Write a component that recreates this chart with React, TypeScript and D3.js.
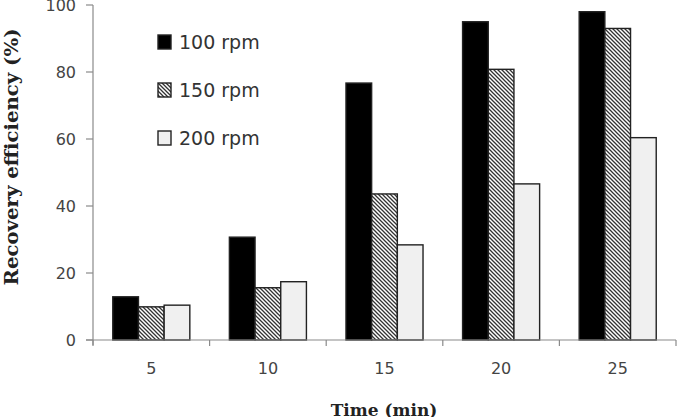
import * as React from "react";
import * as d3 from "d3";

// chart values
const times = ["5", "10", "15", "20", "25"];
const series = ["100 rpm", "150 rpm", "200 rpm"];
const rpm100 = [12.9, 30.7, 76.7, 95.0, 98.0];
const rpm150 = [9.9, 15.6, 43.6, 80.8, 93.0];
const rpm200 = [10.4, 17.4, 28.4, 46.6, 60.4];
const yTicks = [0, 20, 40, 60, 80, 100];

const W = 679;
const H = 417;
const margin = { left: 93, right: 3, top: 5, bottom: 77 };

const fills = ["#000", "url(#hatch)", "#f0f0f0"];

export default function App() {
  const values = [rpm100, rpm150, rpm200];

  const x = d3.scaleBand<string>()
    .domain(times)
    .range([margin.left, W - margin.right])
    .paddingInner(0)
    .paddingOuter(0);
  const inner = d3.scaleBand<string>()
    .domain(series)
    .range([0, x.bandwidth()])
    .paddingOuter(0.77)
    .paddingInner(0);
  const y = d3.scaleLinear().domain([0, 100]).range([H - margin.bottom, margin.top]);

  const axisColor = "#8a8a8a";
  const y0 = y(0);
  // category boundaries for the x tick marks
  const bounds = times.map(t => x(t)!).concat([W - margin.right]);

  return (
    <svg width={W} height={H} style={{ position: "absolute", left: 0, top: 0, background: "#fff" }}>
      <defs>
        <pattern id="hatch" width="4" height="4" patternUnits="userSpaceOnUse">
          <rect width="4" height="4" fill="#fff" />
          <path d="M0,0 L4,4 M-1,3 L1,5 M3,-1 L5,1" stroke="#333" strokeWidth="1.3" />
        </pattern>
      </defs>

      {/* bars */}
      <g>
        {times.map((t, i) => (
          <g key={t}>
            {series.map((s, j) => {
              const v = values[j][i];
              return (
                <rect
                  key={s}
                  x={x(t)! + inner(s)!}
                  y={y(v)}
                  width={inner.bandwidth()}
                  height={y0 - y(v)}
                  fill={fills[j]}
                  stroke="#222"
                  strokeWidth={1.4}
                />
              );
            })}
          </g>
        ))}
      </g>

      {/* y axis */}
      <g>
        <line x1={margin.left} x2={margin.left} y1={y(100)} y2={y0 + 5} stroke={axisColor} strokeWidth={1.2} />
        {yTicks.map(v => (
          <g key={v}>
            <line x1={margin.left - 7} x2={margin.left} y1={y(v)} y2={y(v)} stroke={axisColor} strokeWidth={1.2} />
            <text x={76} y={y(v) + 6} textAnchor="end" fontFamily="DejaVu Sans" fontSize={16} fill="#444">
              {v}
            </text>
          </g>
        ))}
      </g>

      {/* x axis */}
      <g>
        <line x1={margin.left - 7} x2={W - margin.right} y1={y0} y2={y0} stroke={axisColor} strokeWidth={1.2} />
        {bounds.map((b, i) => (
          <line key={i} x1={b} x2={b} y1={y0} y2={y0 + 6} stroke={axisColor} strokeWidth={1.2} />
        ))}
        {times.map(t => (
          <text key={t} x={x(t)! + x.bandwidth() / 2} y={374} textAnchor="middle" fontFamily="DejaVu Sans" fontSize={16} fill="#444">
            {t}
          </text>
        ))}
      </g>

      {/* axis titles */}
      <text
        transform={`translate(18, 157) rotate(-90)`}
        textAnchor="middle"
        fontFamily="DejaVu Serif"
        fontWeight="bold"
        fontSize={19}
        fill="#222"
        textLength={257}
        lengthAdjust="spacingAndGlyphs"
      >
        Recovery efficiency (%)
      </text>
      <text x={384} y={416} textAnchor="middle" fontFamily="DejaVu Serif" fontWeight="bold" fontSize={17} fill="#222">
        Time (min)
      </text>

      {/* legend */}
      <g>
        {series.map((s, j) => (
          <g key={s} transform={`translate(158, ${35 + j * 48})`}>
            <rect width={13} height={14} fill={fills[j]} stroke="#222" strokeWidth={1.4} />
            <text x={21} y={14} fontFamily="DejaVu Sans" fontSize={19} fill="#333">
              {s}
            </text>
          </g>
        ))}
      </g>
    </svg>
  );
}
